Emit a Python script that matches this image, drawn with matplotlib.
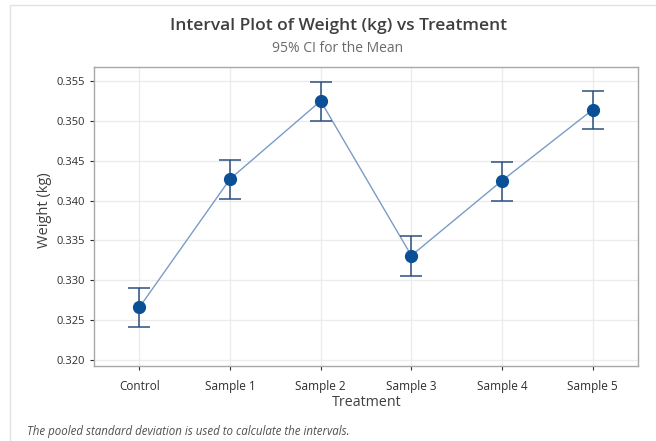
import matplotlib
matplotlib.use("Agg")
import matplotlib.pyplot as plt
from matplotlib.patches import Rectangle

# values
treatments = ["Control", "Sample 1", "Sample 2", "Sample 3", "Sample 4", "Sample 5"]
means = [0.3266, 0.3427, 0.3525, 0.3331, 0.3425, 0.3514]
ci_low = [0.3242, 0.3402, 0.3500, 0.3306, 0.3400, 0.3490]
ci_high = [0.3290, 0.3451, 0.3549, 0.3356, 0.3449, 0.3538]
yticks = [0.320, 0.325, 0.330, 0.335, 0.340, 0.345, 0.350, 0.355]

plt.rcParams['font.family'] = ['Open Sans', 'DejaVu Sans']

fig = plt.figure(figsize=(6.56, 4.41), dpi=100)
fig.patches.append(Rectangle((10/656, -0.1), 1.0, 1.1 - 5/441, transform=fig.transFigure,
                             fill=False, edgecolor='#e2e2e2', linewidth=1.0))

ax = fig.add_axes([94/656, 1 - 366/441, (638 - 94)/656, (366 - 67)/441])
x = list(range(len(treatments)))

ax.plot(x, means, color='#7a9cc6', linewidth=1.0, zorder=2)
yerr = [[m - lo for m, lo in zip(means, ci_low)], [hi - m for m, hi in zip(means, ci_high)]]
ax.errorbar(x, means, yerr=yerr, fmt='none', ecolor='#2c4f7c', elinewidth=1.1,
            capsize=8, capthick=1.1, zorder=3)
ax.plot(x, means, 'o', color='#0b4f96', markersize=8.5, zorder=4)

ax.set_xlim(-0.5, 5.5)
ax.set_ylim(0.31925, 0.35676)
ax.set_xticks(x)
ax.set_xticklabels(treatments)
ax.set_yticks(yticks)
ax.set_yticklabels([f"{v:.3f}" for v in yticks])
ax.tick_params(colors='#2e2e2e', length=3, width=0.8)
ax.tick_params(axis='y', labelsize=8)
ax.tick_params(axis='x', labelsize=8.5, pad=7)
ax.grid(True, color='#ebebeb', linewidth=0.9)
ax.set_axisbelow(True)
for s in ax.spines.values():
    s.set_color('#a8a8a8')
    s.set_linewidth(1.0)

fig.text(338/656, 1 - 26/441, "Interval Plot of Weight (kg) vs Treatment", ha='center', va='center',
         fontsize=12.5, fontweight='semibold', color='#3f3f3f')
fig.text(338/656, 1 - 49/441, "95% CI for the Mean", ha='center', va='center',
         fontsize=10, color='#6a6a6a')
fig.text(44/656, 1 - 210/441, "Weight (kg)", rotation=90, ha='center', va='center',
         fontsize=10.5, color='#404040')
fig.text(367/656, 1 - 402/441, "Treatment", ha='center', va='center',
         fontsize=10.3, color='#404040')
fig.text(27/656, 1 - 431/441, "The pooled standard deviation is used to calculate the intervals.",
         ha='left', va='center', fontsize=8.3, style='italic', color='#505050')

fig.savefig("out.png", dpi=100)
